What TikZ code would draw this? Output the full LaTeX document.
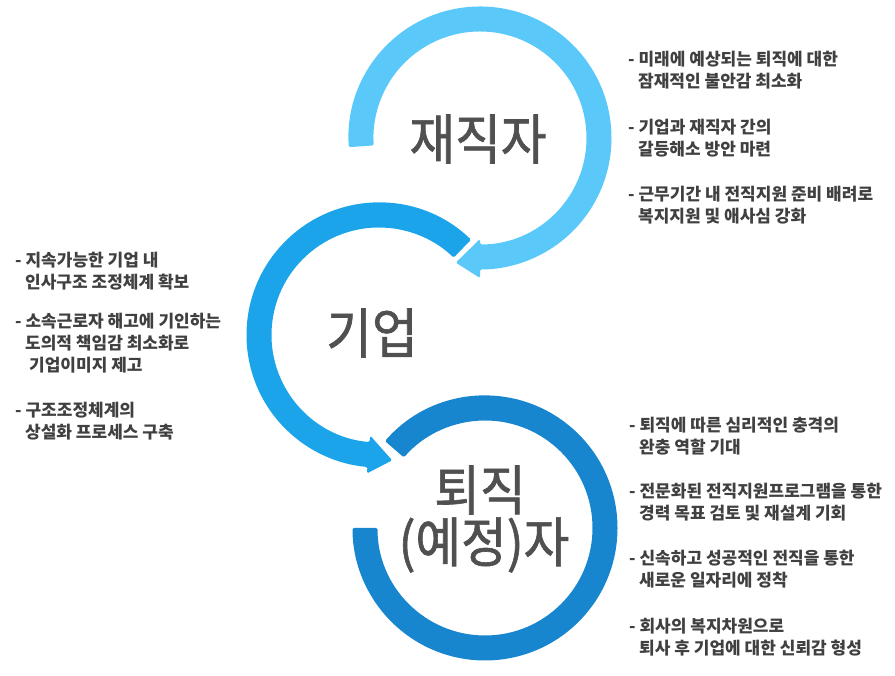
\documentclass[tikz,border=0pt]{standalone}
\usepackage{fontspec}
\newfontfamily\kr[FakeStretch=0.92,FakeBold=1.2]{Noto Sans CJK KR}
\newfontfamily\krs{Noto Sans CJK KR}
\usetikzlibrary{calc}
\definecolor{ringA}{RGB}{91,200,250}
\definecolor{ringB}{RGB}{27,164,233}
\definecolor{ringC}{RGB}{24,134,207}
\definecolor{labelgray}{RGB}{80,80,80}
\definecolor{textgray}{RGB}{64,64,64}
\newcommand{\ind}{\hspace*{10pt}}
\begin{document}
\begin{tikzpicture}[x=1pt,y=1pt,
  bigtext/.style={font=\kr\fontsize{54}{58}\selectfont, text=labelgray, inner sep=0pt},
  itemtext/.style={font=\krs\bfseries\fontsize{17}{22}\selectfont, text=textgray, anchor=base west, inner sep=0pt},
  ring/.style={rounded corners=1.5pt}]
\useasboundingbox (0,0) rectangle (895,676);
\coordinate (C1) at (480,538);
\coordinate (C2) at (379,341);
\coordinate (C3) at (485,148);

% ring 1
\fill[ringA, ring] ($(C1)+(184:131.5)$) arc[start angle=184, end angle=-90, radius=131.5]
  -- ($(C1)+(-90:140)$) -- ($(C1)+(-101:127)$) -- ($(C1)+(-90:101)$)
  -- ($(C1)+(-90:106.5)$) arc[start angle=-90, end angle=184, radius=106.5] -- cycle;
% ring 2
\fill[ringB, ring] ($(C2)+(46:132.5)$) arc[start angle=46, end angle=265, radius=132.5]
  -- ($(C2)+(265:139)$) -- ($(C2)+(276:126)$) -- ($(C2)+(265:101)$)
  -- ($(C2)+(265:107.5)$) arc[start angle=265, end angle=46, radius=107.5] -- cycle;
% ring 3
\fill[ringC, ring] ($(C3)+(139:132.5)$) arc[start angle=139, end angle=-180, radius=132.5]
  -- ($(C3)+(180:107.5)$) arc[start angle=180, end angle=499, radius=107.5] -- cycle;

\node[bigtext] (lab1) at (478,537) {재직자};
\node[bigtext] (lab2) at (372,343) {기업};
\node[bigtext] (lab3a) at (480,186) {퇴직};
\node[bigtext] (lab3b) at (484,131) {(예정)자};

% right top
\node[itemtext] (r1) at (628,610) {\begin{tabular}[t]{@{}l@{}}- 미래에 예상되는 퇴직에 대한\\\ind 잠재적인 불안감 최소화\end{tabular}};
\node[itemtext] (r2) at (628,542) {\begin{tabular}[t]{@{}l@{}}- 기업과 재직자 간의\\\ind 갈등해소 방안 마련\end{tabular}};
\node[itemtext] (r3) at (628,475) {\begin{tabular}[t]{@{}l@{}}- 근무기간 내 전직지원 준비 배려로\\\ind 복지지원 및 애사심 강화\end{tabular}};
% left
\node[itemtext] (l1) at (15,409) {\begin{tabular}[t]{@{}l@{}}- 지속가능한 기업 내\\\ind 인사구조 조정체계 확보\end{tabular}};
\node[itemtext] (l2) at (15,348) {\begin{tabular}[t]{@{}l@{}}- 소속근로자 해고에 기인하는\\\ind 도의적 책임감 최소화로\\\hspace*{14pt}기업이미지 제고\end{tabular}};
\node[itemtext] (l3) at (15,259) {\begin{tabular}[t]{@{}l@{}}- 구조조정체계의\\\ind 상설화 프로세스 구축\end{tabular}};
% right bottom
\node[itemtext] (b1) at (629,244) {\begin{tabular}[t]{@{}l@{}}- 퇴직에 따른 심리적인 충격의\\\ind 완충 역할 기대\end{tabular}};
\node[itemtext] (b2) at (629,178) {\begin{tabular}[t]{@{}l@{}}- 전문화된 전직지원프로그램을 통한\\\ind 경력 목표 검토 및 재설계 기회\end{tabular}};
\node[itemtext] (b3) at (629,111) {\begin{tabular}[t]{@{}l@{}}- 신속하고 성공적인 전직을 통한\\\ind 새로운 일자리에 정착\end{tabular}};
\node[itemtext] (b4) at (629,43) {\begin{tabular}[t]{@{}l@{}}- 회사의 복지차원으로\\\ind 퇴사 후 기업에 대한 신뢰감 형성\end{tabular}};
\end{tikzpicture}
\end{document}
